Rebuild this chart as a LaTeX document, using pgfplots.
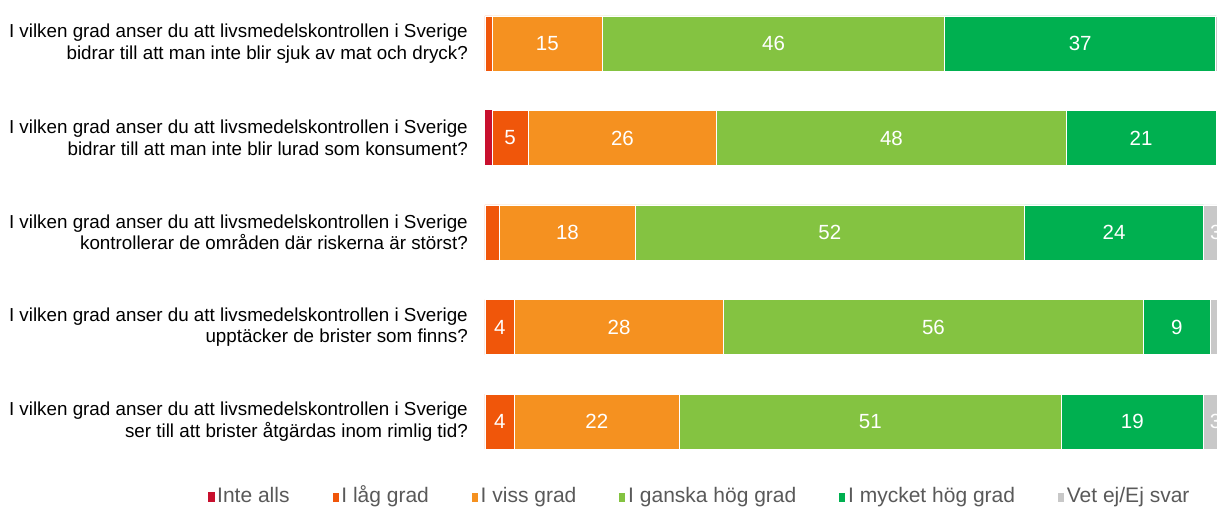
\documentclass[border=0pt]{standalone}
\usepackage{pgfplots}
\usepackage{pgfplotstable}
\pgfplotsset{compat=1.18}
\usepackage{fontspec}
\setmainfont{Liberation Sans}
\definecolor{cInte}{RGB}{200,16,46}
\definecolor{cLag}{RGB}{240,86,10}
\definecolor{cViss}{RGB}{245,145,32}
\definecolor{cGanska}{RGB}{132,195,65}
\definecolor{cMycket}{RGB}{0,176,80}
\definecolor{cVet}{RGB}{200,200,200}
\definecolor{legendgray}{RGB}{89,89,89}
% y: 5 = first question (top), 1 = last question (bottom)
% v* = bar length (percent), l* = printed label ({} = no label shown)
\pgfplotstableread{
y  vInte lInte vLag lLag vViss lViss vGan lGan vMyc lMyc vVet lVet
5  0.00  {}    0.94 {}   14.9  15    46.0 46   36.5 37   1.66 {}
4  0.94  {}    4.85 5    25.4  26    47.0 48   20.2 21   1.60 {}
3  0.00  {}    2.00 {}   18.2  18    52.4 52   24.1 24   3.30 3
2  0.00  {}    4.00 4    28.1  28    56.5 56   9.0  9    2.40 {}
1  0.00  {}    4.00 4    22.1  22    51.5 51   19.0 19   3.40 3
}\datatable
\begin{document}
\begin{tikzpicture}
\begin{axis}[
  name=ax,
  xbar stacked,
  scale only axis,
  width=750.6pt, height=507pt,
  xmin=0, xmax=101,
  ymin=0.0952, ymax=5.4603,
  enlargelimits=false,
  bar width=55pt,
  axis line style={draw=none},
  major tick length=0pt,
  xtick=\empty,
  ytick={1,2,3,4,5},
  yticklabels={
    {I vilken grad anser du att livsmedelskontrollen i Sverige\\ser till att brister åtgärdas inom rimlig tid?},
    {I vilken grad anser du att livsmedelskontrollen i Sverige\\upptäcker de brister som finns?},
    {I vilken grad anser du att livsmedelskontrollen i Sverige\\kontrollerar de områden där riskerna är störst?},
    {I vilken grad anser du att livsmedelskontrollen i Sverige\\bidrar till att man inte blir lurad som konsument?},
    {I vilken grad anser du att livsmedelskontrollen i Sverige\\bidrar till att man inte blir sjuk av mat och dryck?}},
  yticklabel style={align=right, font=\fontsize{18.8}{21.5}\selectfont, inner xsep=0pt, xshift=-17pt, text=black},
  point meta=explicit symbolic,
  nodes near coords={\pgfplotspointmeta},
  every node near coord/.append style={anchor=center, text=white, font=\fontsize{20.5}{24}\selectfont},
  legend columns=6,
  legend style={draw=none, fill=none, at={(axis description cs:-0.369,0.0197)}, anchor=west,
    font=\fontsize{21}{24}\selectfont, text=legendgray, inner sep=0pt,
    nodes={text height=15pt, text depth=4pt},
    /tikz/every odd column/.style={column sep=0pt},
    /tikz/every even column/.style={column sep=40pt}},
  legend image code/.code={\fill[#1] (0pt,-5pt) rectangle (7pt,5pt);},
  every axis plot/.append style={draw=white, line width=0.8pt},
]
\addplot[fill=cInte, draw=none] table[x=vInte, y=y, meta=lInte] {\datatable};
\addplot[fill=cLag] table[x=vLag, y=y, meta=lLag] {\datatable};
\addplot[fill=cViss] table[x=vViss, y=y, meta=lViss] {\datatable};
\addplot[fill=cGanska] table[x=vGan, y=y, meta=lGan] {\datatable};
\addplot[fill=cMycket] table[x=vMyc, y=y, meta=lMyc] {\datatable};
\addplot[fill=cVet] table[x=vVet, y=y, meta=lVet] {\datatable};
\legend{Inte alls, I låg grad, I viss grad, I ganska hög grad, I mycket hög grad, Vet ej/Ej svar}
\end{axis}
\pgfresetboundingbox
\path[use as bounding box] ([xshift=-485pt]ax.south west) rectangle ([xshift=732pt,yshift=507pt]ax.south west);
\end{tikzpicture}
\end{document}
